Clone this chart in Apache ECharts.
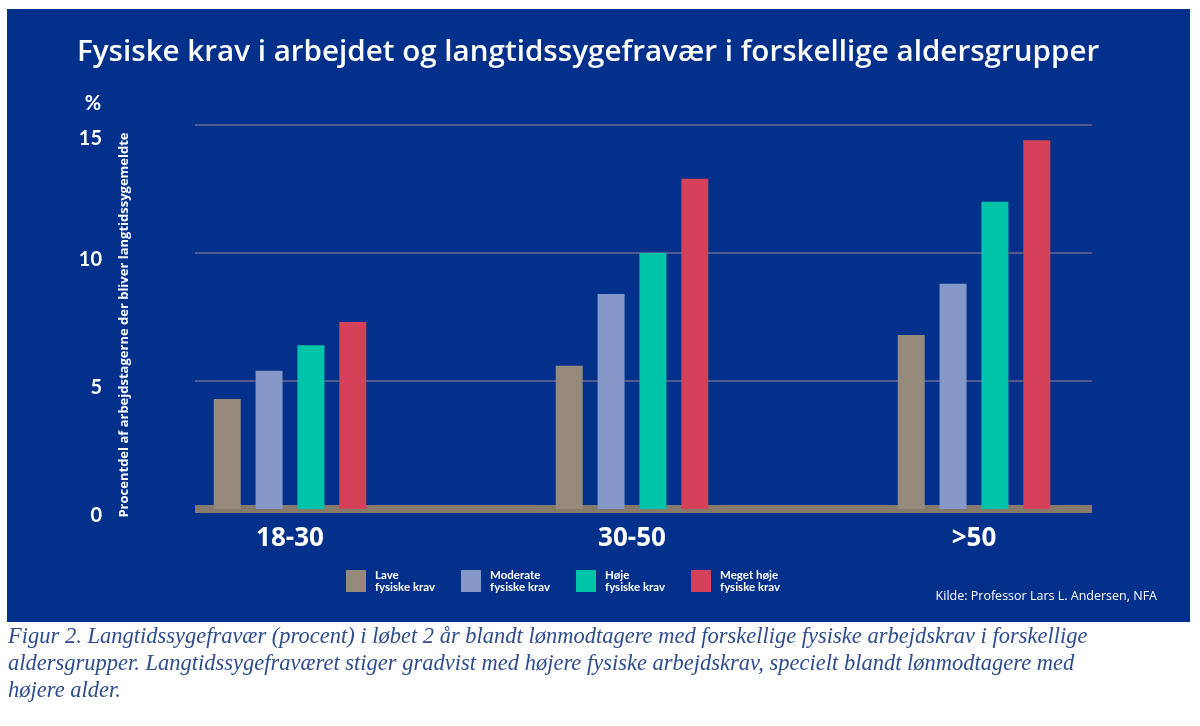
<!DOCTYPE html>
<html>
<head>
<meta charset="utf-8">
<script src="https://cdn.jsdelivr.net/npm/echarts@6/dist/echarts.min.js"></script>
<style>
html,body{margin:0;padding:0;background:#ffffff;}
#chart{width:1200px;height:726px;}
</style>
</head>
<body>
<div id="chart"></div>
<script>
var categories = ['18-30', '30-50', '>50'];
var seriesNames = ['Lave fysiske krav', 'Moderate fysiske krav', 'Høje fysiske krav', 'Meget høje fysiske krav'];
var laveKrav = [4.3, 5.6, 6.8];
var moderateKrav = [5.4, 8.4, 8.8];
var hojeKrav = [6.4, 10.0, 12.0];
var megetHojeKrav = [7.3, 12.9, 14.4];
var yTicks = [0, 5, 10, 15];

var colors = ['#968a7c', '#8599c8', '#00c4aa', '#d6415a'];
var values = [laveKrav, moderateKrav, hojeKrav, megetHojeKrav];
var FONT = 'Lato';
var WIDE = '"Open Sans"';

var chart = echarts.init(document.getElementById('chart'), null, {renderer: 'canvas'});

var series = seriesNames.map(function (name, i) {
  return {
    name: name,
    type: 'bar',
    xAxisIndex: 0,
    yAxisIndex: 0,
    data: values[i],
    barWidth: 27,
    barGap: '55%',
    itemStyle: {color: colors[i]},
    z: 3
  };
});

var option = {
  backgroundColor: '#ffffff',
  animation: false,
  title: {
    text: 'Fysiske krav i arbejdet og langtidssygefravær i forskellige aldersgrupper',
    left: 77,
    top: 38,
    padding: 0,
    textStyle: {color: '#ffffff', fontFamily: WIDE, fontWeight: 600, fontSize: 29.6}
  },
  legend: {
    data: seriesNames,
    left: 346,
    top: 569,
    padding: 0,
    itemWidth: 20,
    itemHeight: 22,
    itemGap: 26,
    icon: 'rect',
    formatter: function (name) { return name.replace(' fysiske', '\nfysiske'); },
    textStyle: {color: '#ffffff', fontFamily: FONT, fontWeight: 'bold', fontSize: 11.5, lineHeight: 12, padding: [0, 0, 0, 4]}
  },
  grid: [
    {left: 119, right: 55, top: 125, bottom: 217},
    {left: 195, right: 108, top: 125, bottom: 217}
  ],
  xAxis: [
    {
      type: 'category', gridIndex: 0, data: categories,
      axisLine: {show: false}, axisTick: {show: false},
      axisLabel: {color: '#ffffff', fontFamily: WIDE, fontWeight: 'bold', fontSize: 26, margin: 17}
    },
    {
      type: 'value', gridIndex: 1, min: 0, max: 1, offset: 3,
      axisLine: {show: true, lineStyle: {color: '#857a6c', width: 8, cap: 'butt'}},
      axisTick: {show: false}, axisLabel: {show: false}, splitLine: {show: false}
    }
  ],
  yAxis: [
    {
      type: 'value', gridIndex: 0, min: yTicks[0], max: yTicks[yTicks.length - 1], interval: 5,
      show: false
    },
    {
      type: 'value', gridIndex: 1, min: yTicks[0], max: yTicks[yTicks.length - 1], interval: 5,
      axisLine: {show: false}, axisTick: {show: false},
      axisLabel: {
        color: '#ffffff', fontFamily: FONT, fontWeight: 'bold', fontSize: 20, margin: 93,
        verticalAlign: 'top',
        formatter: function (v) { return v === 15 ? '{t|' + v + '}' : '{n|' + v + '}'; },
        rich: {
          t: {color: '#ffffff', fontFamily: FONT, fontWeight: 'bold', fontSize: 20, lineHeight: 28},
          n: {color: '#ffffff', fontFamily: FONT, fontWeight: 'bold', fontSize: 20, lineHeight: 14}
        }
      },
      splitLine: {show: true, lineStyle: {color: '#6d6a93', width: 1.5}}
    }
  ],
  graphic: [
    {type: 'rect', z: -10, silent: true, shape: {x: 7, y: 9, width: 1183, height: 613}, style: {fill: '#02308a'}},
    {type: 'text', z: 10, x: 93, y: 104, style: {text: '%', fill: '#ffffff', font: 'bold 20px Lato', textAlign: 'center', textVerticalAlign: 'middle'}},
    {type: 'text', z: 10, x: 124, y: 325, rotation: Math.PI / 2,
      style: {text: 'Procentdel af arbejdstagerne der bliver langtidssygemeldte', fill: '#ffffff', font: 'bold 13px "Open Sans"', textAlign: 'center', textVerticalAlign: 'middle'}},
    {type: 'text', z: 10, x: 1157, y: 596,
      style: {text: 'Kilde: Professor Lars L. Andersen, NFA', fill: '#ffffff', font: '12.5px "Open Sans"', textAlign: 'right', textVerticalAlign: 'middle'}},
    {type: 'text', z: 10, x: 8, y: 624,
      style: {text: 'Figur 2. Langtidssygefravær (procent) i løbet 2 år blandt lønmodtagere med forskellige fysiske arbejdskrav i forskellige\naldersgrupper. Langtidssygefraværet stiger gradvist med højere fysiske arbejdskrav, specielt blandt lønmodtagere med\nhøjere alder.',
        fill: '#2e4d8f', font: 'italic 22.5px "Liberation Serif"', lineHeight: 27, textAlign: 'left', textVerticalAlign: 'top'}}
  ],
  series: series
};

chart.setOption(option);
</script>
</body>
</html>
